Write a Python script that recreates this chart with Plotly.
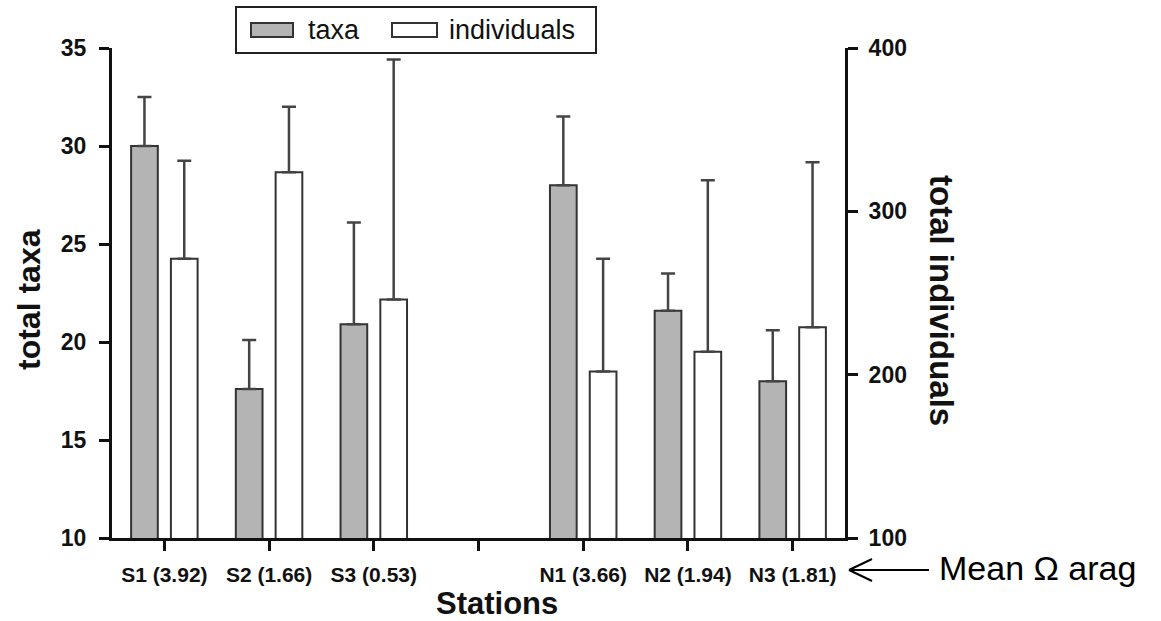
import plotly.graph_objects as go

# ---- data ----
tick_labels = ["S1 (3.92)", "S2 (1.66)", "S3 (0.53)", "", "N1 (3.66)", "N2 (1.94)", "N3 (1.81)"]
stations = [t for t in tick_labels if t]
taxa = [30.0, 17.6, 20.9, 28.0, 21.6, 18.0]
taxa_err = [2.5, 2.5, 5.2, 3.5, 1.9, 2.6]
individuals = [271, 324, 246, 202, 214, 229]
individuals_err = [60, 40, 147, 69, 105, 101]
left_ticks = [10, 15, 20, 25, 30, 35]
right_ticks = [100, 200, 300, 400]

x_pos = [i for i, t in enumerate(tick_labels) if t]

FONT = "Liberation Sans, Arial, Helvetica, sans-serif"
TXT = "#111111"

# plot area in pixels
W, H = 1161, 621
L, R, T, B = 112, 845, 48, 538


def px(x):
    return (x - L) / (R - L)


def py(y):
    return (B - y) / (B - T)


bw = 0.255
fig = go.Figure()
fig.add_trace(go.Bar(
    x=x_pos, y=taxa, name="taxa", width=bw, offset=-0.19 - bw / 2,
    marker=dict(color="#b4b4b4", line=dict(color="#333333", width=2)),
    error_y=dict(type="data", symmetric=False, array=taxa_err,
                 arrayminus=[0] * len(taxa), color="#444444", thickness=2.5, width=7),
    showlegend=False, yaxis="y",
    customdata=stations,
))
fig.add_trace(go.Bar(
    x=x_pos, y=individuals, name="individuals", width=bw, offset=0.19 - bw / 2,
    marker=dict(color="#ffffff", line=dict(color="#333333", width=2)),
    error_y=dict(type="data", symmetric=False, array=individuals_err,
                 arrayminus=[0] * len(individuals), color="#444444", thickness=2.5, width=7),
    showlegend=False, yaxis="y2",
    customdata=stations,
))

fig.update_layout(
    width=W, height=H,
    margin=dict(l=L, r=W - R, t=T, b=H - B, autoexpand=False),
    paper_bgcolor="white", plot_bgcolor="white",
    barmode="overlay",
    font=dict(family=FONT, color=TXT),
    xaxis=dict(
        range=[-0.5, 6.5], tickmode="array", tickvals=list(range(len(tick_labels))),
        ticktext=tick_labels, showgrid=False, zeroline=False,
        showline=True, linecolor="#111111", linewidth=3,
        ticks="outside", ticklen=10, tickwidth=3, tickcolor="#111111",
        tickfont=dict(size=21, weight="bold", color=TXT, family=FONT),
        ticklabelstandoff=6,
    ),
    yaxis=dict(
        range=[10, 35], tickmode="array", tickvals=left_ticks,
        showgrid=False, zeroline=False,
        showline=True, linecolor="#111111", linewidth=3,
        ticks="outside", ticklen=10, tickwidth=3, tickcolor="#111111",
        tickfont=dict(size=23, weight="bold", color=TXT, family=FONT),
        ticklabelstandoff=8,
    ),
    yaxis2=dict(
        range=[100, 400], tickmode="array", tickvals=right_ticks,
        overlaying="y", side="right", anchor="x",
        showgrid=False, zeroline=False,
        showline=True, linecolor="#111111", linewidth=3,
        ticks="outside", ticklen=10, tickwidth=3, tickcolor="#111111",
        tickfont=dict(size=23, weight="bold", color=TXT, family=FONT),
        ticklabelstandoff=6,
    ),
)

ann = []
# axis titles
ann.append(dict(text="<b>total taxa</b>", x=px(29), y=py(300), xref="paper", yref="paper",
                textangle=-90, showarrow=False, font=dict(size=32, color=TXT, family=FONT),
                xanchor="center", yanchor="middle"))
ann.append(dict(text="<b>total individuals</b>", x=px(942), y=py(300), xref="paper", yref="paper",
                textangle=90, showarrow=False, font=dict(size=33, color=TXT, family=FONT),
                xanchor="center", yanchor="middle"))
ann.append(dict(text="<b>Stations</b>", x=px(497), y=py(603), xref="paper", yref="paper",
                showarrow=False, font=dict(size=31, color=TXT, family=FONT),
                xanchor="center", yanchor="middle"))
ann.append(dict(text="Mean Ω arag", x=px(937), y=py(568), xref="paper", yref="paper",
                showarrow=False, font=dict(size=34, color="#000000", family=FONT),
                xanchor="left", yanchor="middle"))
# legend texts
ann.append(dict(text="taxa", x=px(306), y=py(30), xref="paper", yref="paper",
                showarrow=False, font=dict(size=27, color=TXT, family=FONT),
                xanchor="left", yanchor="middle"))
ann.append(dict(text="individuals", x=px(447), y=py(30), xref="paper", yref="paper",
                showarrow=False, font=dict(size=27, color=TXT, family=FONT),
                xanchor="left", yanchor="middle"))

shapes = []
# legend box
shapes.append(dict(type="rect", xref="paper", yref="paper", x0=px(236), x1=px(596),
                   y0=py(53), y1=py(7), line=dict(color="#222222", width=2), fillcolor="white"))
shapes.append(dict(type="rect", xref="paper", yref="paper", x0=px(251), x1=px(293),
                   y0=py(37), y1=py(23), line=dict(color="#333333", width=2), fillcolor="#b4b4b4"))
shapes.append(dict(type="rect", xref="paper", yref="paper", x0=px(392), x1=px(437),
                   y0=py(37), y1=py(23), line=dict(color="#333333", width=2), fillcolor="white"))
# arrow
ay = 570
for (x0, y0, x1, y1) in [(849, ay, 929, ay), (849, ay, 872, ay - 11), (849, ay, 872, ay + 11)]:
    shapes.append(dict(type="line", xref="paper", yref="paper", x0=px(x0), y0=py(y0),
                       x1=px(x1), y1=py(y1), line=dict(color="#000000", width=2)))

fig.update_layout(annotations=ann, shapes=shapes)
fig.write_html("out.html")
